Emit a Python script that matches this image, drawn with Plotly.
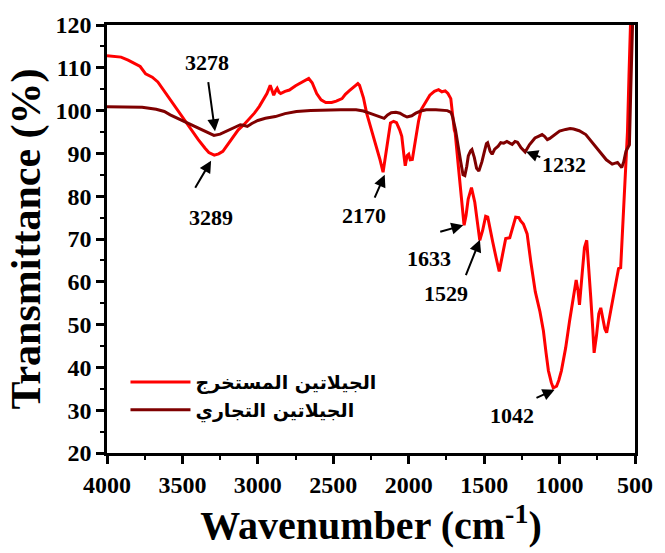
import plotly.graph_objects as go

# Extracted gelatin (red)
wn_extracted = [4000, 3950, 3907, 3860, 3814, 3780, 3744, 3700, 3663, 3620, 3581, 3530, 3488, 3440,
                3395, 3350, 3325, 3289, 3260, 3232, 3200, 3163, 3130, 3093, 3060, 3023, 2990, 2965,
                2940, 2918, 2905, 2895, 2880, 2872, 2860, 2849, 2820, 2791, 2750, 2700, 2663, 2640,
                2610, 2581, 2550, 2511, 2480, 2442, 2420, 2395, 2360, 2337, 2326, 2300, 2279, 2250,
                2221, 2190, 2170, 2160, 2140, 2121, 2100, 2081, 2060, 2046, 2030, 2023, 2010, 2000,
                1990, 1976, 1965, 1953, 1935, 1918, 1890, 1860, 1830, 1802, 1780, 1758, 1740, 1721,
                1698, 1692, 1671, 1649, 1633, 1620, 1606, 1584, 1562, 1545, 1529, 1510, 1490, 1476,
                1460, 1443, 1420, 1400, 1380, 1357, 1330, 1310, 1291, 1270, 1259, 1240, 1215, 1190,
                1161, 1130, 1107, 1090, 1074, 1055, 1042, 1020, 1005, 988, 960, 934, 910, 890, 878,
                868, 850, 835, 820, 805, 793, 780, 771, 755, 740, 727, 710, 700, 688, 670, 652, 630,
                609, 595, 585, 578, 565, 550, 540, 532, 525, 515, 505]
tr_extracted = [112.8, 112.6, 112.5, 111.8, 110.9, 110.3, 108.6, 107.8, 106.7, 104.5, 102.5, 100.0, 97.8, 95.3,
                93.2, 91.2, 90.2, 89.6, 89.9, 90.5, 92.0, 94.0, 95.5, 96.7, 98.0, 99.4, 101.0, 102.5,
                104.0, 105.9, 104.5, 103.6, 104.8, 105.2, 104.3, 104.0, 104.5, 104.8, 105.8, 106.8, 107.5, 106.5,
                104.0, 102.5, 101.9, 101.9, 102.2, 102.8, 103.8, 104.6, 105.5, 106.3, 105.9, 103.0, 99.4, 96.0,
                92.5, 88.5, 85.6, 88.0, 92.5, 97.1, 97.5, 97.2, 95.5, 94.0, 89.0, 87.1, 89.5, 89.8,
                88.5, 88.6, 91.0, 94.0, 97.5, 100.2, 102.0, 103.6, 104.5, 104.9, 104.4, 104.6, 104.0, 102.8,
                95.5, 94.8, 87.0, 79.3, 73.2, 75.5, 79.3, 82.0, 78.6, 74.0, 69.7, 72.0, 75.3, 75.1,
                72.0, 69.3, 65.5, 62.4, 66.0, 70.1, 70.3, 72.5, 75.1, 75.0, 74.3, 73.5, 71.2, 64.5,
                57.7, 53.0, 48.5, 43.5, 39.2, 36.5, 35.2, 35.6, 37.0, 39.2, 44.5, 50.8, 55.5, 60.4, 58.0,
                54.6, 62.0, 68.0, 69.7, 63.0, 56.2, 49.0, 43.4, 47.5, 52.5, 53.9, 51.0, 49.0, 48.1, 51.5, 55.4, 59.5,
                63.1, 63.3, 70.0, 76.0, 82.0, 95.0, 108.0, 120.5, 126.0, 128.0, 128.0]

# Commercial gelatin (dark red)
wn_commercial = [4000, 3900, 3767, 3674, 3620, 3581, 3520, 3465, 3420, 3372, 3330, 3291, 3250, 3209,
                 3160, 3116, 3090, 3070, 3040, 3000, 2950, 2884, 2820, 2744, 2650, 2535, 2450, 2349,
                 2300, 2260, 2232, 2190, 2163, 2140, 2116, 2085, 2058, 2030, 2011, 1980, 1953, 1920,
                 1884, 1820, 1744, 1720, 1709, 1690, 1674, 1655, 1640, 1628, 1615, 1605, 1590, 1581,
                 1565, 1550, 1535, 1515, 1500, 1485, 1477, 1460, 1447, 1430, 1407, 1390, 1370, 1349,
                 1330, 1314, 1295, 1279, 1255, 1228, 1200, 1180, 1163, 1140, 1116, 1100, 1081, 1065,
                 1046, 1020, 1000, 960, 930, 907, 870, 826, 790, 750, 721, 690, 651, 630, 616, 600,
                 588, 575, 560, 545, 537, 528, 520, 510]
tr_commercial = [100.9, 100.9, 100.8, 100.3, 99.8, 99.0, 98.0, 97.1, 96.3, 95.5, 94.7, 94.2, 94.5, 95.2,
                 96.1, 96.7, 96.5, 96.3, 97.0, 97.7, 98.2, 98.6, 99.3, 99.8, 100.0, 100.2, 100.2, 100.2,
                 99.9, 99.4, 99.0, 98.5, 98.2, 99.0, 99.5, 99.6, 99.4, 98.8, 98.5, 98.8, 99.4, 99.9,
                 100.2, 100.2, 100.0, 99.6, 98.6, 95.5, 92.5, 88.0, 85.0, 84.8, 87.0, 89.4, 90.6, 90.9,
                 89.0, 86.5, 85.9, 88.0, 90.2, 92.3, 92.5, 90.5, 89.8, 91.0, 91.7, 92.5, 92.4, 92.8,
                 92.4, 92.1, 92.8, 92.6, 91.3, 90.3, 92.0, 93.0, 93.6, 94.0, 94.4, 94.0, 93.2, 93.5,
                 94.0, 94.8, 95.2, 95.6, 95.8, 95.7, 95.3, 94.4, 92.8, 91.0, 89.8, 88.5, 87.5, 87.7, 87.9, 87.2,
                 86.7, 88.0, 90.5, 91.5, 92.0, 105.0, 125.0, 128.0]

series_names = ["الجيلاتين المستخرج", "الجيلاتين التجاري"]

# Peak labels
peak_labels = ["3278", "3289", "2170", "1633", "1529", "1042", "1232"]
peak_wn = [3284, 3310, 2159, 1638, 1528, 1033, 1222]
peak_tr = [95.2, 88.3, 85.0, 73.2, 69.8, 34.8, 90.4]
tail_wn = [3330, 3421, 2230, 1801, 1625, 1163, 1118]
tail_tr = [107.0, 81.6, 79.3, 71.6, 61.2, 32.7, 89.0]
text_wn = [3336, 3310, 2295, 1866, 1755, 1313, 968]
text_tr = [111.2, 75.1, 75.6, 65.4, 57.3, 28.8, 87.4]

x_ticks = [4000, 3500, 3000, 2500, 2000, 1500, 1000, 500]
y_ticks = [20, 30, 40, 50, 60, 70, 80, 90, 100, 110, 120]

FONT = "Liberation Serif, Times New Roman, DejaVu Serif, serif"

fig = go.Figure()
fig.add_trace(go.Scatter(x=wn_extracted, y=tr_extracted, mode="lines", name=series_names[0],
                         line=dict(color="#FF0000", width=3)))
fig.add_trace(go.Scatter(x=wn_commercial, y=tr_commercial, mode="lines", name=series_names[1],
                         line=dict(color="#7F0000", width=3)))

for i in range(len(peak_labels)):
    fig.add_annotation(x=peak_wn[i], y=peak_tr[i], ax=tail_wn[i], ay=tail_tr[i],
                       xref="x", yref="y", axref="x", ayref="y", text="",
                       showarrow=True, arrowhead=2, arrowsize=1.2, arrowwidth=2, arrowcolor="black")
    fig.add_annotation(x=text_wn[i], y=text_tr[i], xref="x", yref="y", text=peak_labels[i],
                       showarrow=False, font=dict(family=FONT, size=22, color="black", weight="bold"))

fig.update_layout(
    width=665, height=553,
    margin=dict(l=107, r=20, t=21, b=100),
    plot_bgcolor="white", paper_bgcolor="white",
    font=dict(family=FONT, color="black"),
    showlegend=True,
    legend=dict(x=0.035, y=0.21, xanchor="left", yanchor="top", bgcolor="rgba(0,0,0,0)",
                font=dict(family="DejaVu Sans, sans-serif", size=19, color="black", weight="bold"),
                itemwidth=60, tracegroupgap=0),
)
fig.update_xaxes(range=[4000, 500], autorange=False, tickmode="array", tickvals=x_ticks,
                 ticktext=[str(v) for v in x_ticks],
                 ticks="outside", ticklen=8, tickwidth=2.5, tickcolor="black",
                 minor=dict(ticks="outside", ticklen=4, tickwidth=2, tickcolor="black", dtick=250),
                 showline=True, linewidth=2.5, linecolor="black", mirror=True, showgrid=False, zeroline=False,
                 tickfont=dict(family=FONT, size=24, color="black", weight="bold"),
                 title=dict(text="Wavenumber (cm<sup>-1</sup>)",
                            font=dict(family=FONT, size=40, weight="bold"), standoff=14))
fig.update_yaxes(range=[20, 120], autorange=False, tickmode="array", tickvals=y_ticks,
                 ticktext=[str(v) for v in y_ticks],
                 ticks="outside", ticklen=8, tickwidth=2.5, tickcolor="black",
                 minor=dict(ticks="outside", ticklen=4, tickwidth=2, tickcolor="black", dtick=5),
                 showline=True, linewidth=2.5, linecolor="black", mirror=True, showgrid=False, zeroline=False,
                 tickfont=dict(family=FONT, size=24, color="black", weight="bold"),
                 title=dict(text="Transmittance (%)", font=dict(family=FONT, size=42, weight="bold"), standoff=2))

fig.write_html("out.html")
